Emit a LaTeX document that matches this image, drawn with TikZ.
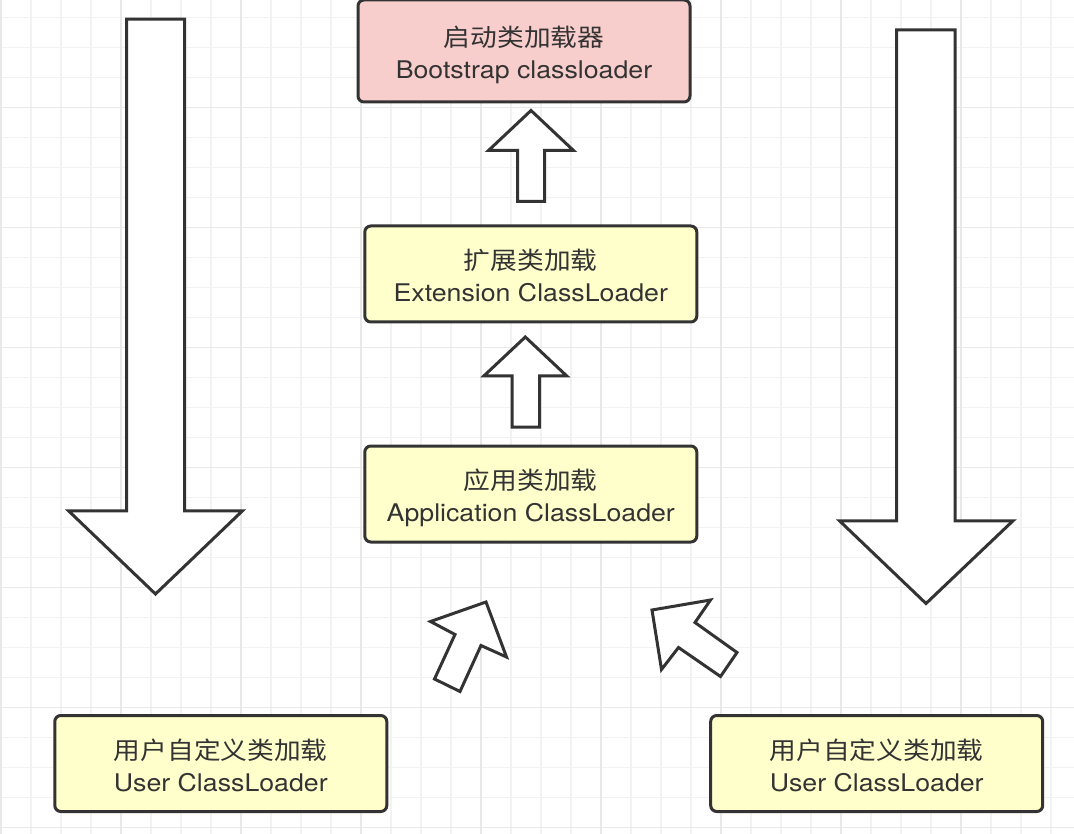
\documentclass[tikz,border=0pt]{standalone}
\usepackage{fontspec}
\setmainfont{TeX Gyre Heros}[FakeStretch=1.1]
\newfontfamily\cjk{Noto Sans CJK SC}[FakeStretch=1.1]
\usetikzlibrary{calc}
\definecolor{strokec}{HTML}{333333}
\definecolor{textc}{HTML}{333333}
\definecolor{pinkfill}{HTML}{F8CECC}
\definecolor{yellowfill}{HTML}{FFFFCC}
\definecolor{gridminor}{HTML}{F2F2F2}
\definecolor{gridmajor}{HTML}{E8E8E8}
\newcommand{\toprule}{\rule{0pt}{29pt}}
\newcommand{\botrule}{\rule[-6pt]{0pt}{6pt}}
\newcommand{\twolines}[2]{\toprule{\cjk #1}\\#2\botrule}
\tikzset{
  loaderbox/.style={draw=strokec, line width=3pt, rounded corners=6pt,
    minimum width=332pt, minimum height=96pt, align=center, text=textc,
    inner sep=0pt, font=\fontsize{24.3}{32}\selectfont},
  blockarrow/.style={draw=strokec, fill=white, line width=3pt, line join=miter},
  gridminorline/.style={draw=gridminor, line width=1.5pt},
  gridmajorline/.style={draw=gridmajor, line width=1.5pt}
}
\begin{document}
\begin{tikzpicture}[x=1pt,y=-1pt]
\useasboundingbox (0,0) rectangle (1074,834);
\fill[white] (0,0) rectangle (1074,834);
% grid
\foreach \gx in {1,31,...,1074} \draw[gridminorline] (\gx,0) -- (\gx,834);
\foreach \gy in {17.5,47.5,...,834} \draw[gridminorline] (0,\gy) -- (1074,\gy);
\foreach \gx in {1,121,...,1074} \draw[gridmajorline] (\gx,0) -- (\gx,834);
\foreach \gy in {107.5,227.5,...,834} \draw[gridmajorline] (0,\gy) -- (1074,\gy);

% boxes
\node[loaderbox, fill=pinkfill, minimum height=102pt] (boot) at (524,51) {\twolines{启动类加载器}{Bootstrap classloader}};
\node[loaderbox, fill=yellowfill] (ext) at (530.8,274) {\twolines{扩展类加载}{Extension ClassLoader}};
\node[loaderbox, fill=yellowfill] (app) at (530.8,494) {\twolines{应用类加载}{Application ClassLoader}};
\node[loaderbox, fill=yellowfill] (userL) at (220.8,763.5) {\twolines{用户自定义类加载}{User ClassLoader}};
\node[loaderbox, fill=yellowfill] (userR) at (876.7,763.5) {\twolines{用户自定义类加载}{User ClassLoader}};

% big down arrows
\draw[blockarrow] (126.5,19.2) -- (184.5,19.2) -- (184.5,510.8) -- (242.5,510.8) -- (155.5,594) -- (68.5,510.8) -- (126.5,510.8) -- cycle;
\draw[blockarrow] (896.5,29.8) -- (955,29.8) -- (955,520.8) -- (1013,520.8) -- (926,603.5) -- (839.5,520.8) -- (896.5,520.8) -- cycle;

% up arrows
\draw[blockarrow] (531,110.5) -- (573.5,150.5) -- (544.5,150.5) -- (544.5,201.5) -- (517.5,201.5) -- (517.5,150.5) -- (488.5,150.5) -- cycle;
\draw[blockarrow] (525.3,337) -- (566.8,376) -- (539.5,376) -- (539.5,427) -- (512,427) -- (512,376) -- (483.8,376) -- cycle;

% diagonal arrows
\draw[blockarrow] (486,602) -- (506.5,657) -- (481,645.5) -- (460,691.5) -- (434.5,679) -- (455,634.5) -- (430.5,621.5) -- cycle;
\draw[blockarrow] (652,610) -- (710.5,600) -- (695,622.5) -- (737,652.5) -- (720.5,676.5) -- (678.5,647.5) -- (661.5,669.5) -- cycle;
\end{tikzpicture}
\end{document}
